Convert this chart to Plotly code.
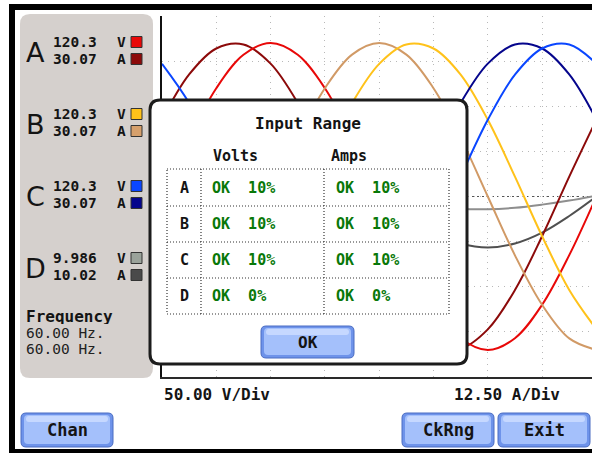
import plotly.graph_objects as go

t_div = [0, 0.5, 1, 1.5, 2, 2.5, 3, 3.5, 4, 4.5, 5, 5.5, 6, 6.5, 7, 7.5, 8]

a_volts = [0, 65, 120, 157, 170, 157, 120, 65, 0, -65, -120, -157, -170, -157, -120, -65, 0]
a_amps = [21.3, 33.8, 41.0, 42.1, 36.8, 25.9, 11.0, -5.5, -21.3, -33.8, -41.0, -42.1, -36.8, -25.9, -11.0, 5.5, 21.3]
b_volts = [-147, -168.5, -164, -135, -85, -22, 44, 103.5, 147, 168.5, 164, 135, 85, 22, -44, -103.5, -147]
b_amps = [-42.5, -39.3, -30.0, -16.3, 0, 16.3, 30.0, 39.3, 42.5, 39.3, 30.0, 16.3, 0, -16.3, -30.0, -39.3, -42.5]
c_volts = [147, 103.5, 44, -22, -85, -135, -164, -168.5, -147, -103.5, -44, 22, 85, 135, 164, 168.5, 147]
c_amps = [21.3, 5.5, -11.0, -25.9, -36.8, -42.1, -41.0, -33.8, -21.3, -5.5, 11.0, 25.9, 36.8, 42.1, 41.0, 33.8, 21.3]
d_volts = [1, 6.5, 10.5, 13.5, 14, 12.5, 9, 4.5, -1, -6.5, -10.5, -13.5, -14, -12.5, -9, -4.5, 1]
d_amps = [0, 5.4, 10.0, 13.0, 14.1, 13.0, 10.0, 5.4, 0, -5.4, -10.0, -13.0, -14.1, -13.0, -10.0, -5.4, 0]

volts_per_div = 50.0
amps_per_div = 12.5

channels = ["A", "B", "C", "D"]
rms_volts = ["120.3", "120.3", "120.3", "9.986"]
rms_amps = ["30.07", "30.07", "30.07", "10.02"]
volt_colors = ["#e80808", "#ffc21a", "#0a46ff", "#9aa29a"]
amp_colors = ["#8c0a0a", "#d6a06c", "#05058c", "#4a4a4a"]
line_volt_colors = ["#e80808", "#ffc21a", "#0a46ff", "#8e8e8e"]
line_amp_colors = ["#8c0a0a", "#d19a66", "#05058c", "#505050"]
frequencies = ["60.00 Hz.", "60.00 Hz."]
range_volts = ["OK  10%", "OK  10%", "OK  10%", "OK  0%"]
range_amps = ["OK  10%", "OK  10%", "OK  10%", "OK  0%"]
volt_scale_label = "50.00 V/Div"
amp_scale_label = "12.50 A/Div"
buttons = ["Chan", "CkRng", "Exit"]

# ---------------- figure ----------------
W, H = 592, 456
fig = go.Figure()

series = [
    (d_volts, volts_per_div, line_volt_colors[3]),
    (d_amps, amps_per_div, line_amp_colors[3]),
    (a_amps, amps_per_div, line_amp_colors[0]),
    (a_volts, volts_per_div, line_volt_colors[0]),
    (b_amps, amps_per_div, line_amp_colors[1]),
    (b_volts, volts_per_div, line_volt_colors[1]),
    (c_amps, amps_per_div, line_amp_colors[2]),
    (c_volts, volts_per_div, line_volt_colors[2]),
]
for vals, scale, col in series:
    fig.add_trace(go.Scatter(
        x=t_div, y=[v / scale for v in vals], mode="lines",
        line=dict(color=col, width=2, shape="spline", smoothing=1.0),
        xaxis="x2", yaxis="y2", hoverinfo="skip", showlegend=False))

PX_DIV_X = 54.3
plot_left, plot_top, plot_bottom = 162, 16, 377

fig.update_layout(
    width=W, height=H, margin=dict(l=0, r=0, t=0, b=0),
    paper_bgcolor="white", plot_bgcolor="rgba(0,0,0,0)",
    showlegend=False,
    xaxis=dict(domain=[0, 1], range=[0, W], visible=False, fixedrange=True),
    yaxis=dict(domain=[0, 1], range=[H, 0], visible=False, fixedrange=True),
    xaxis2=dict(domain=[plot_left / W, 1], range=[0, (W - plot_left) / PX_DIV_X],
                anchor="y2", showgrid=True, dtick=1, tick0=0, gridcolor="#b8b8b8",
                griddash="1px,5px", gridwidth=1, zeroline=False, showticklabels=False,
                ticks="", showline=True, linecolor="#2a2a2a", linewidth=2, mirror=False,
                fixedrange=True),
    yaxis2=dict(domain=[(H - plot_bottom) / H, (H - plot_top) / H], range=[-4, 4],
                anchor="x2", showgrid=True, dtick=1, tick0=0, gridcolor="#b8b8b8",
                griddash="1px,5px", gridwidth=1, zeroline=False, showticklabels=False,
                ticks="", showline=True, linecolor="#111111", linewidth=2, fixedrange=True),
)

shapes = []


def rrect(x0, y0, x1, y1, r):
    return (f"M{x0 + r},{y0} L{x1 - r},{y0} Q{x1},{y0} {x1},{y0 + r} "
            f"L{x1},{y1 - r} Q{x1},{y1} {x1 - r},{y1} L{x0 + r},{y1} "
            f"Q{x0},{y1} {x0},{y1 - r} L{x0},{y0 + r} Q{x0},{y0} {x0 + r},{y0} Z")


# centre line of the scope (dark dotted)
shapes.append(dict(type="line", xref="x2 domain", yref="y2", x0=0, x1=1, y0=0, y1=0,
                   line=dict(color="#555555", width=1, dash="2px,3px"), layer="below"))

# outer black frame
shapes.append(dict(type="rect", xref="x", yref="y", x0=9, x1=W, y0=4, y1=10,
                   fillcolor="black", line_width=0, layer="above"))
shapes.append(dict(type="rect", xref="x", yref="y", x0=9, x1=15, y0=4, y1=452,
                   fillcolor="black", line_width=0, layer="above"))
shapes.append(dict(type="rect", xref="x", yref="y", x0=9, x1=W, y0=449, y1=453,
                   fillcolor="black", line_width=0, layer="above"))

# left grey readout panel
shapes.append(dict(type="path", xref="x", yref="y", path=rrect(20, 14, 153, 378, 10),
                   fillcolor="#d5d0cd", line_width=0, layer="above"))

# dialog
shapes.append(dict(type="path", xref="x", yref="y", path=rrect(150, 100, 467, 364, 10),
                   fillcolor="white", line=dict(color="#1c1c1c", width=3), layer="above"))

# dotted table
tx0, tx1 = 167, 449
col_x = [201, 324]
row_y = [169, 206, 242, 278, 314]
dot = dict(color="#333333", width=1.2, dash="1px,2px")
shapes.append(dict(type="rect", xref="x", yref="y", x0=tx0, x1=tx1, y0=row_y[0], y1=row_y[-1],
                   line=dot, layer="above"))
for cx in col_x:
    shapes.append(dict(type="line", xref="x", yref="y", x0=cx, x1=cx, y0=row_y[0], y1=row_y[-1],
                       line=dot, layer="above"))
for ry in row_y[1:-1]:
    shapes.append(dict(type="line", xref="x", yref="y", x0=tx0, x1=tx1, y0=ry, y1=ry,
                       line=dot, layer="above"))


def add_button(x0, y0, x1, y1):
    shapes.append(dict(type="path", xref="x", yref="y", path=rrect(x0, y0, x1, y1, 5),
                       fillcolor="#6e93ea", line=dict(color="#4a6cc2", width=1), layer="above"))
    shapes.append(dict(type="path", xref="x", yref="y", path=rrect(x0 + 3, y0 + 2, x1 - 3, y1 - 3, 4),
                       fillcolor="#a4c0fb", line_width=0, layer="above"))
    shapes.append(dict(type="path", xref="x", yref="y", path=rrect(x0 + 5, y0 + 3, x1 - 5, y0 + 9, 3),
                       fillcolor="#c6d8ff", line_width=0, layer="above"))


button_boxes = [(21, 413, 113, 447), (402, 413, 494, 447), (498, 413, 590, 447)]
for b in button_boxes:
    add_button(*b)
ok_box = (261, 326, 354, 358)
add_button(*ok_box)

# legend squares
pair_y = [(42, 59), (114, 131), (186, 203), (258, 275)]
for i, (yv, ya) in enumerate(pair_y):
    for yy, col in ((yv, volt_colors[i]), (ya, amp_colors[i])):
        shapes.append(dict(type="rect", xref="x", yref="y", x0=131, x1=142, y0=yy - 5.5, y1=yy + 5.5,
                           fillcolor=col, line=dict(color="#333333", width=1), layer="above"))

fig.update_layout(shapes=shapes)

MONO = "DejaVu Sans Mono"
DARK = "#141414"
GREEN = "#087808"


def txt(x, y, s, size=15, bold=True, color=DARK, anchor="left", family=MONO, height=None):
    kw = {}
    if height is not None:
        kw["height"] = height
    fig.add_annotation(x=x, y=y, xref="x", yref="y", text=f"<b>{s}</b>" if bold else s,
                       showarrow=False, xanchor=anchor, yanchor="middle", borderpad=0,
                       font=dict(family=family, size=size, color=color), **kw)


for i, (yv, ya) in enumerate(pair_y):
    txt(35, (yv + ya) / 2 + 1, channels[i], size=27, bold=False, anchor="center",
        family="DejaVu Sans", height=26)
    txt(52, yv, rms_volts[i], size=14.5, height=14)
    txt(52, ya, rms_amps[i], size=14.5, height=14)
    txt(121, yv, "V", size=14.5, anchor="center", height=14)
    txt(121, ya, "A", size=14.5, anchor="center", height=14)

txt(25, 316, "Frequency", size=16, height=15)
txt(25, 333, frequencies[0], size=14.5, bold=False, color="#222222", height=14)
txt(25, 349, frequencies[1], size=14.5, bold=False, color="#222222", height=14)

txt(163, 394, volt_scale_label, size=16)
txt(453, 394, amp_scale_label, size=16)

# dialog texts
txt(308, 123, "Input Range", size=16, anchor="center")
txt(212, 156, "Volts", size=15)
txt(330, 156, "Amps", size=15)
for i in range(4):
    cy = (row_y[i] + row_y[i + 1]) / 2
    txt(184, cy, channels[i], size=15, anchor="center")
    txt(211, cy, range_volts[i], size=15, color=GREEN)
    txt(335, cy, range_amps[i], size=15, color=GREEN)
txt((ok_box[0] + ok_box[2]) / 2, (ok_box[1] + ok_box[3]) / 2, "OK", size=16, anchor="center")

for (x0, y0, x1, y1), lab in zip(button_boxes, buttons):
    txt((x0 + x1) / 2, (y0 + y1) / 2, lab, size=17, anchor="center")

fig.write_html("out.html", config={"displayModeBar": False, "staticPlot": True},
               post_script="document.body.style.margin='0px';")
